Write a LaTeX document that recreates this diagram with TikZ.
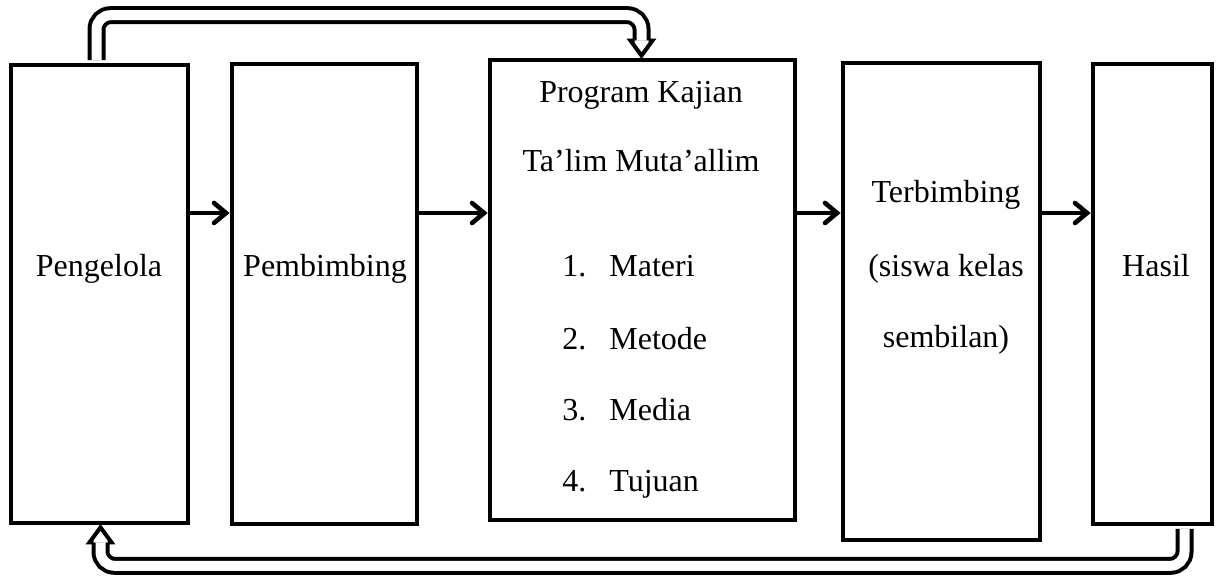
\documentclass[tikz,border=0pt]{standalone}
\usepackage{fontspec}
\setmainfont{Liberation Serif}
\usetikzlibrary{positioning, arrows.meta, shadows}
\tikzset{
    Box/.style = {
        draw, line width=2.4pt, fill=white, inner sep=0pt,
        drop shadow={shadow xshift=1.2pt, shadow yshift=-1.2pt, opacity=0.25, fill=gray}
    },
    Arrow/.style = {
        line width=2.3pt, line cap=round,
        -{Straight Barb[length=6pt, width=10pt, line cap=round]}
    },
    Return/.style = {
        double, line width=2pt, double distance=5pt, rounded corners=7pt
    },
    Head/.style = {line width=2pt, fill=white, line join=miter},
    Label/.style = {font=\fontsize{16}{19}\selectfont, inner sep=0pt, anchor=base}
}

\begin{document}
\begin{tikzpicture}[x=0.5pt, y=-0.5pt]
    \useasboundingbox (0,0) rectangle (1220,576);
    % boxes
    \node[Box, minimum width=88.5pt, minimum height=229pt] (P) at (99.5,294) {};
    \node[Box, minimum width=92.5pt, minimum height=230pt] (B) at (324.5,294) {};
    \node[Box, minimum width=152.5pt, minimum height=230pt] (K) at (642.5,290) {};
    \node[Box, minimum width=98.5pt, minimum height=238.5pt] (T) at (941.5,301.5) {};
    \node[Box, minimum width=59.5pt, minimum height=230pt] (H) at (1152.5,294) {};
    % texts
    \node[Label] (Ptext) at (99,277) {Pengelola};
    \node[Label] (Btext) at (325,277) {Pembimbing};
    \node[Label] (Htext) at (1156,277) {Hasil};
    \node[Label] (K1) at (641,103) {Program Kajian};
    \node[Label] (K2) at (641,172) {Ta’lim Muta’allim};
    \node[Label, anchor=base west] (N1) at (562,277) {1.};
    \node[Label, anchor=base west] (N2) at (562,350) {2.};
    \node[Label, anchor=base west] (N3) at (562,421) {3.};
    \node[Label, anchor=base west] (N4) at (562,492) {4.};
    \node[Label, anchor=base west] (I1) at (609,277) {Materi};
    \node[Label, anchor=base west] (I2) at (609,350) {Metode};
    \node[Label, anchor=base west] (I3) at (609,421) {Media};
    \node[Label, anchor=base west] (I4) at (609,492) {Tujuan};
    \node[Label] (T1) at (946,203) {Terbimbing};
    \node[Label] (T2) at (946,277) {(siswa kelas};
    \node[Label] (T3) at (946,348) {sembilan)};
    % arrows
    \draw [Arrow] (P.east |- 0,213) -- (B.west |- 0,213);
    \draw [Arrow] (B.east |- 0,213) -- (K.west |- 0,213);
    \draw [Arrow] (K.east |- 0,213) -- (T.west |- 0,213);
    \draw [Arrow] (T.east |- 0,213) -- (H.west |- 0,213);
    % return arrows
    \coordinate (t1) at ([xshift=-0.5pt, yshift=1pt]K.north);
    \coordinate (t2) at ([xshift=0.5pt, yshift=-1pt]P.south);
    \draw [Return] ([xshift=-1.5pt, yshift=1.2pt]P.north) -- ++(0,-45) -| ([yshift=7.5pt]t1);
    \draw [Head] ([shift={(-3.5pt,7.5pt)}]t1) -- ++(-2pt,0) -- (t1)
        -- ([shift={(5.5pt,7.5pt)}]t1) -- ++(-2pt,0);
    \draw [Return] ([xshift=16pt, yshift=-1.2pt]H.south) -- ++(0,37) -| ([yshift=-7.5pt]t2);
    \draw [Head] ([shift={(-3.5pt,-7.5pt)}]t2) -- ++(-2pt,0) -- (t2)
        -- ([shift={(5.5pt,-7.5pt)}]t2) -- ++(-2pt,0);
\end{tikzpicture}
\end{document}
